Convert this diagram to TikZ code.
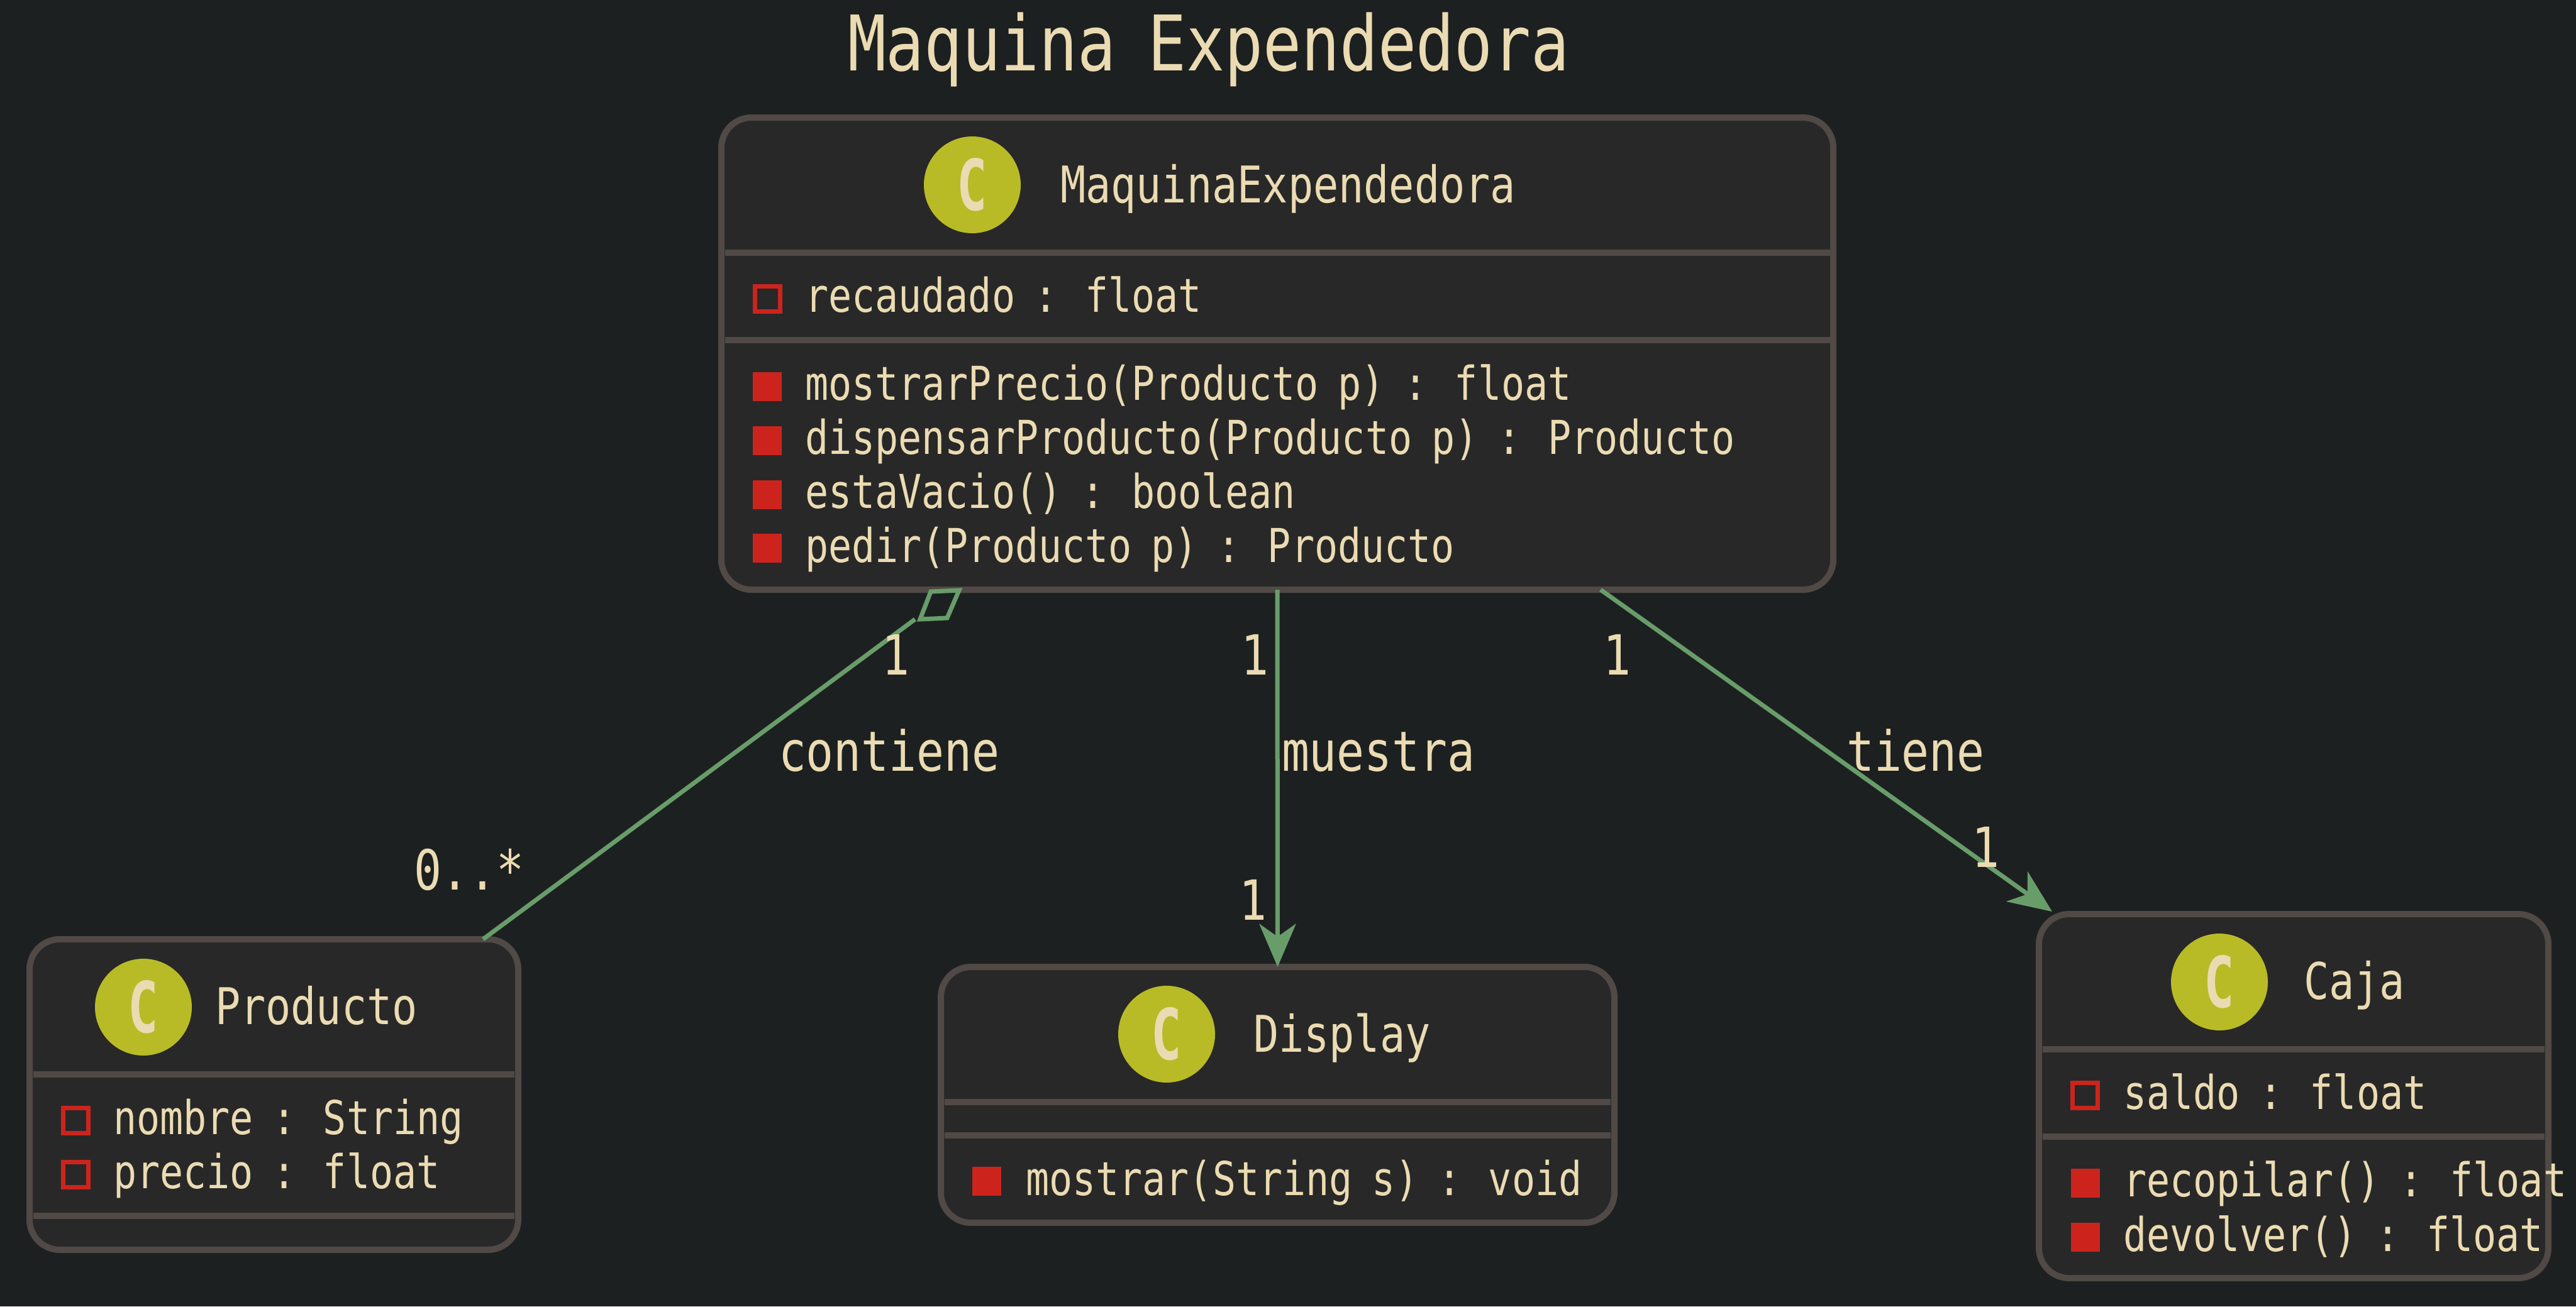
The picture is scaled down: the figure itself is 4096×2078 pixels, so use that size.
\documentclass[tikz,border=0pt]{standalone}
\usepackage{fontspec}
\usetikzlibrary{arrows.meta}
\newfontfamily\umlfont[FakeStretch=0.83,WordSpace=0.83]{DejaVu Sans Mono}
\newfontfamily\spotfont[FakeStretch=0.72]{DejaVu Sans Mono}
\definecolor{bgc}{HTML}{1D2021}
\definecolor{boxfill}{HTML}{282828}
\definecolor{boxline}{HTML}{504945}
\definecolor{ink}{HTML}{EBDBB2}
\definecolor{vred}{HTML}{CC241D}
\definecolor{relc}{HTML}{689D6A}
\definecolor{spot}{HTML}{B8BB26}
\tikzset{
  classbox/.style={draw=boxline,fill=boxfill,line width=10pt,rounded corners=48pt,inner sep=0pt,outer sep=0pt,rectangle},
  sepline/.style={draw=boxline,line width=10pt},
  txt/.style={anchor=base west,inner sep=0pt,outer sep=0pt,text=ink,font=\umlfont},
  title/.style={txt,font=\umlfont\fontsize{122}{122}\selectfont},
  cname/.style={txt,font=\umlfont\fontsize{80.5}{80.5}\selectfont},
  member/.style={txt,font=\umlfont\fontsize{74.3}{74.3}\selectfont},
  lab/.style={txt,font=\umlfont\fontsize{88}{88}\selectfont},
  spotc/.style={circle,fill=spot,minimum size=154pt,inner sep=0pt,outer sep=0pt,text=ink,font=\spotfont\bfseries\fontsize{112}{112}\selectfont},
  attricon/.style={rectangle,draw=vred,line width=7pt,minimum size=40pt,inner sep=0pt,outer sep=0pt},
  methicon/.style={rectangle,fill=vred,minimum size=46pt,inner sep=0pt,outer sep=0pt},
  rel/.style={draw=relc,line width=7pt},
  relarrow/.style={rel,-{Stealth[length=69pt,width=59pt,inset=21pt,line width=0pt]}},
}
\begin{document}
\begin{tikzpicture}[x=1pt,y=-1pt]
\fill[bgc] (0,0) rectangle (4096,2078);
\useasboundingbox (0,0) rectangle (4096,2078);
\node[title] (ttl) at (1348,112) {Maquina Expendedora};

% MaquinaExpendedora
\node[classbox,minimum width=1768pt,minimum height=751pt] (main) at (2031,562.5) {};
\draw[sepline] (1153,402) -- (2910,402);
\draw[sepline] (1153,541) -- (2910,541);
\node[spotc] (mainc) at (1546,294) {C};
\node[cname] (mainn) at (1686,322) {MaquinaExpendedora};
\node[attricon] (a1) at (1220,475) {};
\node[member] (a1t) at (1280,496) {recaudado : float};
\node[methicon] (m1) at (1220,615) {};
\node[member] (m1t) at (1280,636) {mostrarPrecio(Producto p) : float};
\node[methicon] (m2) at (1220,701) {};
\node[member] (m2t) at (1280,722) {dispensarProducto(Producto p) : Producto};
\node[methicon] (m3) at (1220,787) {};
\node[member] (m3t) at (1280,808) {estaVacio() : boolean};
\node[methicon] (m4) at (1220,872) {};
\node[member] (m4t) at (1280,894) {pedir(Producto p) : Producto};

% Producto
\node[classbox,minimum width=777pt,minimum height=494pt] (prod) at (435.5,1741) {};
\draw[sepline] (53,1709) -- (818,1709);
\draw[sepline] (53,1934) -- (818,1934);
\node[spotc] (prodc) at (228,1602) {C};
\node[cname] (prodn) at (342,1629) {Producto};
\node[attricon] (p1) at (120.5,1782.5) {};
\node[member] (p1t) at (180,1804) {nombre : String};
\node[attricon] (p2) at (120.5,1868.5) {};
\node[member] (p2t) at (180,1890) {precio : float};

% Display
\node[classbox,minimum width=1071pt,minimum height=407pt] (disp) at (2031.5,1741.5) {};
\draw[sepline] (1502,1753) -- (2561,1753);
\draw[sepline] (1502,1806) -- (2561,1806);
\node[spotc] (dispc) at (1855,1645) {C};
\node[cname] (dispn) at (1993,1673) {Display};
\node[methicon] (d1) at (1569,1879) {};
\node[member] (d1t) at (1631,1901) {mostrar(String s) : void};

% Caja
\node[classbox,minimum width=810pt,minimum height=579pt] (caja) at (3647,1743.5) {};
\draw[sepline] (3248,1669) -- (4046,1669);
\draw[sepline] (3248,1808) -- (4046,1808);
\node[spotc] (cajac) at (3529,1562) {C};
\node[cname] (cajan) at (3663,1589) {Caja};
\node[attricon] (c1) at (3315.5,1742.5) {};
\node[member] (c1t) at (3376,1764) {saldo : float};
\node[methicon] (c2) at (3315.5,1882) {};
\node[member] (c2t) at (3376,1903) {recopilar() : float};
\node[methicon] (c3) at (3315.5,1967.5) {};
\node[member] (c3t) at (3376,1990) {devolver() : float};

% Relations
\draw[rel] ([xshift=-576pt,yshift=-47pt]main.south) -- ([xshift=332.5pt]prod.north);
\draw[rel,fill=bgc,line join=miter] ([xshift=-551pt,yshift=-3pt]main.south) -- ([xshift=-506pt,yshift=-1pt]main.south) -- ([xshift=-525pt,yshift=-45pt]main.south) -- ([xshift=-568pt,yshift=-47pt]main.south) -- cycle;
\draw[relarrow] (main.south) -- (disp.north);
\draw[relarrow] ([xshift=514pt]main.south) -- ([xshift=21pt,yshift=4pt]caja.north west);

% Labels
\node[lab] (l1) at (1238,1226) {contiene};
\node[lab] (l2) at (2038,1226) {muestra};
\node[lab] (l3) at (2936,1226) {tiene};
\node[lab] (e1) at (1402,1073) {1};
\node[lab] (e2) at (1973,1073) {1};
\node[lab] (e3) at (2549,1073) {1};
\node[lab] (e4) at (1970,1463) {1};
\node[lab] (e5) at (3135,1379) {1};
\node[lab] (e6) at (658,1415) {0..*};
\end{tikzpicture}
\end{document}
